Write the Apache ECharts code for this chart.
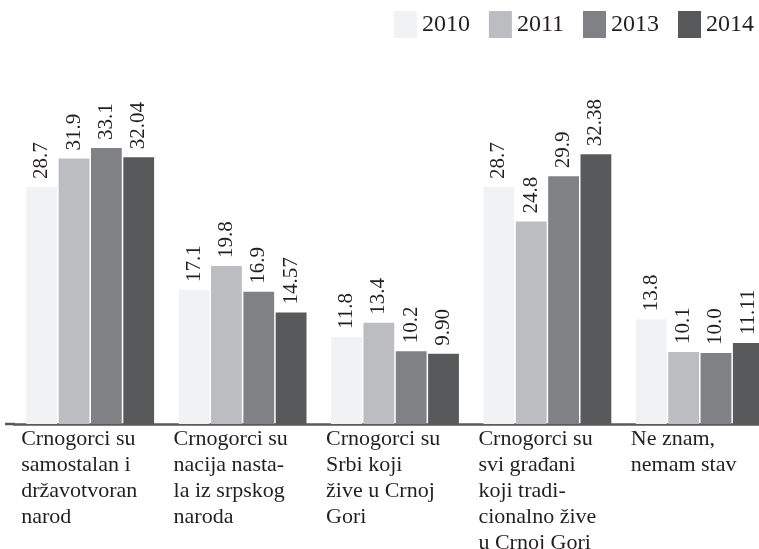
<!DOCTYPE html>
<html>
<head>
<meta charset="utf-8">
<script src="https://cdn.jsdelivr.net/npm/echarts@6/dist/echarts.min.js"></script>
<style>
  html, body { margin: 0; padding: 0; background: #fff; }
  #main { width: 759px; height: 549px; }
</style>
</head>
<body>
<div id="main"></div>
<script>
const categories = [
  'Crnogorci su\nsamostalan i\ndržavotvoran\nnarod',
  'Crnogorci su\nnacija nasta-\nla iz srpskog\nnaroda',
  'Crnogorci su\nSrbi koji\nžive u Crnoj\nGori',
  'Crnogorci su\nsvi građani\nkoji tradi-\ncionalno žive\nu Crnoj Gori',
  'Ne znam,\nnemam stav'
]
const years = ['2010', '2011', '2013', '2014']
const y2010 = [28.7, 17.1, 11.8, 28.7, 13.8]
const y2011 = [31.9, 19.8, 13.4, 24.8, 10.1]
const y2013 = [33.1, 16.9, 10.2, 29.9, 10.0]
const y2014 = [32.04, 14.57, 9.90, 32.38, 11.11]
const decimals = [1, 1, 1, 2]
const colors = ['#f1f2f4', '#bcbdc1', '#808184', '#58595b']

const font = '"Liberation Serif", "Times New Roman", serif'
const textColor = '#231f20'
const axisColor = '#58595b'

const seriesData = [y2010, y2011, y2013, y2014]

const myChart = echarts.init(document.getElementById('main'))

myChart.setOption({
  animation: false,
  color: colors,
  legend: {
    data: years,
    top: 6,
    right: 0,
    itemWidth: 23,
    itemHeight: 27,
    itemGap: 19,
    icon: 'rect',
    textStyle: {
      fontFamily: font,
      fontSize: 24,
      color: textColor
    }
  },
  grid: {
    left: 14,
    right: -17,
    top: 60,
    bottom: 125,
    containLabel: false,
    outerBoundsMode: 'none'
  },
  xAxis: {
    type: 'category',
    data: categories,
    axisTick: { show: false },
    axisLine: {
      lineStyle: { color: axisColor, width: 2.5 }
    },
    axisLabel: {
      margin: 2,
      interval: 0,
      formatter: (value) => value.split('\n').map(l => '{a|' + l + '}').join('\n'),
      rich: {
        a: {
          width: 138,
          align: 'left',
          fontFamily: font,
          fontSize: 22,
          lineHeight: 26,
          color: textColor
        }
      }
    }
  },
  yAxis: {
    type: 'value',
    min: 2,
    max: 43,
    show: false,
    splitLine: { show: false }
  },
  series: seriesData.map((data, i) => ({
    name: years[i],
    type: 'bar',
    data: data,
    barWidth: 30.8,
    barGap: '5%',
    clip: true,
    itemStyle: { color: colors[i] },
    label: {
      show: true,
      position: 'top',
      rotate: 90,
      align: 'left',
      verticalAlign: 'middle',
      distance: 8,
      fontFamily: font,
      fontSize: 21,
      color: textColor,
      formatter: (p) => Number(p.value).toFixed(decimals[i])
    }
  }))
})

// the baseline runs a little past the first category on the left
const baseY = myChart.convertToPixel({ xAxisIndex: 0, yAxisIndex: 0 }, [0, 2])[1]
myChart.setOption({
  graphic: [{
    type: 'line',
    shape: { x1: 5, y1: baseY, x2: 15, y2: baseY },
    style: { stroke: axisColor, lineWidth: 2.5 }
  }]
})
</script>
</body>
</html>
